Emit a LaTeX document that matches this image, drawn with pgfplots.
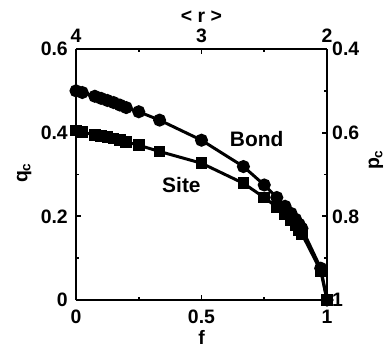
\documentclass[border=0pt]{standalone}
\usepackage{pgfplots}
\pgfplotsset{compat=1.18}
\usepackage{fontspec}
\setmainfont{Liberation Sans}
\newcommand{\bigf}{\fontsize{19.5}{22}\selectfont\bfseries}
\newcommand{\biggf}{\fontsize{21}{24}\selectfont\bfseries}
\begin{document}
\begin{tikzpicture}
\useasboundingbox (-76bp,-47bp) rectangle (313bp,300bp);
\pgfplotsset{
  common/.style={
    scale only axis, width=251bp, height=251bp,
    at={(0,0)}, anchor=south west,
    /pgf/number format/assume math mode=true,
    tick label style={font=\bigf, inner sep=0pt},
    label style={font=\bigf, inner sep=0pt},
    tick align=inside,
    major tick length=5bp, minor tick length=3bp,
    tick style={black, line width=1.8pt},
    axis line style={line width=2.6pt},
    minor tick num=1,
  }
}
\begin{axis}[common,
  xmin=0, xmax=1, ymin=0, ymax=0.6,
  xtick={0,0.5,1}, ytick={0,0.2,0.4,0.6},
  axis x line*=bottom, axis y line*=left,
  xlabel={f}, ylabel={q\textsubscript{c}},
  xticklabels={0,0.5,1},
  yticklabels={0,0.2,0.4,0.6},
  xticklabel style={anchor=north, yshift=-10bp},
  yticklabel style={anchor=east, xshift=-8bp},
  xlabel style={at={(axis description cs:0.5,0)}, anchor=north, yshift=-30bp},
  ylabel style={at={(axis description cs:-0.207,0.506)}, anchor=center},
]
\addplot[black, line width=3pt, mark=*, mark size=5bp] coordinates {
(0,0.500) (0.025,0.496) (0.075,0.487) (0.1,0.482) (0.125,0.477) (0.15,0.472)
(0.175,0.466) (0.2,0.460) (0.25,0.450) (0.333,0.430) (0.5,0.382) (0.667,0.319)
(0.75,0.275) (0.8,0.245) (0.833,0.224) (0.857,0.207) (0.875,0.193) (0.889,0.181)
(0.9,0.171) (0.975,0.076) (1,0)
};
\addplot[black, line width=3pt, mark=square*, mark size=4.3bp] coordinates {
(0,0.405) (0.025,0.401) (0.075,0.395) (0.1,0.392) (0.125,0.389) (0.15,0.386)
(0.175,0.382) (0.2,0.378) (0.25,0.370) (0.333,0.355) (0.5,0.327) (0.667,0.279)
(0.75,0.245) (0.8,0.222) (0.833,0.205) (0.857,0.191) (0.875,0.179) (0.889,0.168)
(0.9,0.158) (0.975,0.070) (1,0)
};
\node[font=\biggf] at (axis cs:0.72,0.385) {Bond};
\node[font=\biggf] at (axis cs:0.42,0.275) {Site};
\end{axis}
\begin{axis}[common,
  xmin=2, xmax=4, x dir=reverse,
  ymin=0.4, ymax=1, y dir=reverse,
  xtick={2,3,4}, ytick={0.4,0.6,0.8,1},
  xticklabels={2,3,4}, yticklabels={0.4,0.6,0.8,1},
  axis x line*=top, axis y line*=right,
  xlabel={< r >}, ylabel={p\textsubscript{c}},
  xticklabel style={anchor=south, yshift=6bp},
  yticklabel style={anchor=west, xshift=5bp},
  xlabel style={at={(axis description cs:0.5,1)}, anchor=center, yshift=32bp},
  ylabel style={at={(axis description cs:1.195,0.558)}, anchor=center},
]
\end{axis}
\end{tikzpicture}
\end{document}
